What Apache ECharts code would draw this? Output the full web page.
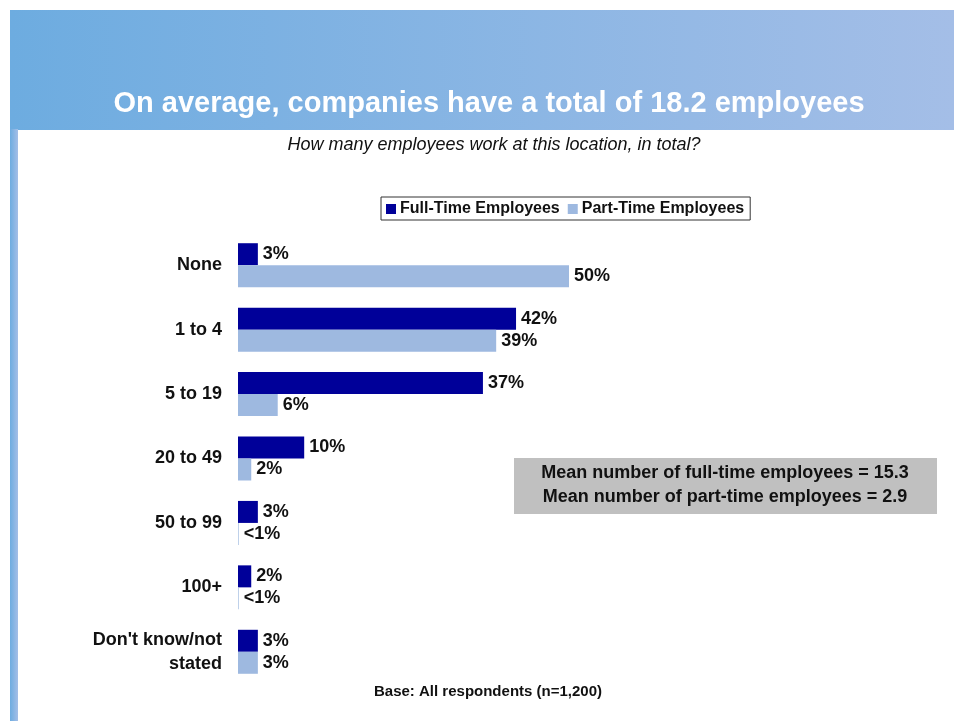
<!DOCTYPE html>
<html>
<head>
<meta charset="utf-8">
<script src="https://cdn.jsdelivr.net/npm/echarts@6/dist/echarts.min.js"></script>
<style>
  html, body { margin: 0; padding: 0; background: #ffffff; }
  #chart { width: 954px; height: 721px; }
</style>
</head>
<body>
<div id="chart"></div>
<script>
// Employee count bands (top to bottom)
var categories = ['None', '1 to 4', '5 to 19', '20 to 49', '50 to 99', '100+', "Don't know/not\nstated"];
// Share of respondents, %
var fullTime = [3, 42, 37, 10, 3, 2, 3];
var partTime = [50, 39, 6, 2, 0.1, 0.1, 3];
// Label text for each bar
var fullTimeLabels = ['3%', '42%', '37%', '10%', '3%', '2%', '3%'];
var partTimeLabels = ['50%', '39%', '6%', '2%', '<1%', '<1%', '3%'];

var titleText = 'On average, companies have a total of 18.2 employees';
var subtitleText = 'How many employees work at this location, in total?';
var meanLines = ['Mean number of full-time employees = 15.3', 'Mean number of part-time employees = 2.9'];
var baseText = 'Base: All respondents (n=1,200)';

var FONT = 'Liberation Sans, Arial, sans-serif';
var chart = echarts.init(document.getElementById('chart'), null, { renderer: 'canvas' });

var labelStyle = {
  show: true, position: 'right', distance: 5,
  fontFamily: FONT, fontWeight: 'bold', fontSize: 18, color: '#111111'
};

chart.setOption({
  backgroundColor: '#ffffff',
  animation: false,
  graphic: [
    { type: 'rect', shape: { x: 10, y: 10, width: 944, height: 120 },
      style: { fill: new echarts.graphic.LinearGradient(0, 0, 1, 0, [
        { offset: 0, color: '#6DACE0' }, { offset: 1, color: '#A4BEE7' }]) } },
    { type: 'rect', shape: { x: 10, y: 129, width: 8, height: 592 },
      style: { fill: new echarts.graphic.LinearGradient(0, 0, 1, 0, [
        { offset: 0, color: '#6DACE0' }, { offset: 1, color: '#A4BEE7' }]) } },
    { type: 'text', x: 489, y: 104,
      style: { text: titleText, fill: '#ffffff', font: 'bold 29px ' + FONT,
        textAlign: 'center', textVerticalAlign: 'middle' } },
    { type: 'text', x: 494, y: 145,
      style: { text: subtitleText, fill: '#111111', font: 'italic 18px ' + FONT,
        textAlign: 'center', textVerticalAlign: 'middle' } },
    { type: 'rect', shape: { x: 514, y: 458, width: 423, height: 56 },
      style: { fill: '#C0C0C0' } },
    { type: 'text', x: 725, y: 485,
      style: { text: meanLines.join('\n'), fill: '#111111', font: 'bold 18px ' + FONT,
        lineHeight: 24, textAlign: 'center', textVerticalAlign: 'middle' } },
    { type: 'text', x: 488, y: 692,
      style: { text: baseText, fill: '#111111', font: 'bold 15px ' + FONT,
        textAlign: 'center', textVerticalAlign: 'middle' } }
  ],
  legend: {
    data: ['Full-Time Employees', 'Part-Time Employees'],
    left: 381, top: 197,
    padding: [4, 6, 3, 5],
    itemGap: 8, itemWidth: 10, itemHeight: 10,
    icon: 'rect',
    borderColor: '#333333', borderWidth: 1,
    backgroundColor: '#ffffff',
    textStyle: { fontFamily: FONT, fontWeight: 'bold', fontSize: 16, color: '#111111', padding: [0, 0, 0, -1] }
  },
  grid: { left: 238, right: 54, top: 233, bottom: 37, containLabel: false },
  xAxis: {
    type: 'value', min: 0, max: 100,
    show: false
  },
  yAxis: {
    type: 'category', data: categories, inverse: true,
    axisLine: { show: false }, axisTick: { show: false },
    axisLabel: {
      margin: 16, fontFamily: FONT, fontWeight: 'bold', fontSize: 18,
      color: '#111111', align: 'right', lineHeight: 24
    }
  },
  series: [
    {
      name: 'Full-Time Employees', type: 'bar', data: fullTime,
      barWidth: 22, barGap: '0%',
      itemStyle: { color: '#000099' },
      label: Object.assign({}, labelStyle, {
        formatter: function (p) { return fullTimeLabels[p.dataIndex]; } })
    },
    {
      name: 'Part-Time Employees', type: 'bar', data: partTime,
      barWidth: 22, barGap: '0%',
      itemStyle: { color: '#9EB9E0' },
      label: Object.assign({}, labelStyle, {
        formatter: function (p) { return partTimeLabels[p.dataIndex]; } })
    }
  ]
});
</script>
</body>
</html>
